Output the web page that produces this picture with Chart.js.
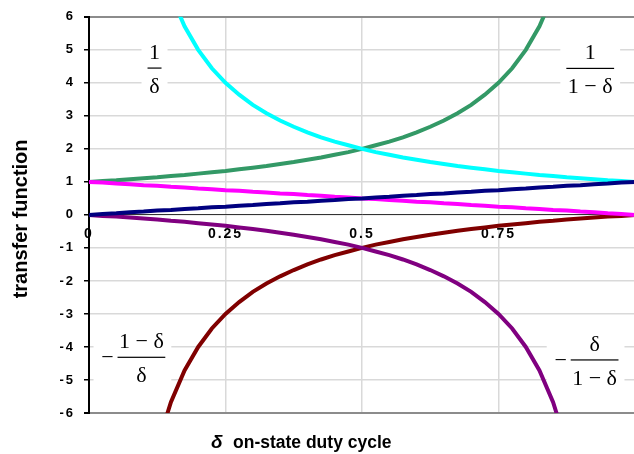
<!DOCTYPE html>
<html>
<head>
<meta charset="utf-8">
<script src="https://cdn.jsdelivr.net/npm/chart.js@4.4.1/dist/chart.umd.min.js"></script>
<style>
  html, body { margin: 0; padding: 0; background: #fff; overflow: hidden; }
  #wrap { width: 642px; height: 454px; }
</style>
</head>
<body>
<div id="wrap"><canvas id="chart" width="642" height="454"></canvas></div>
<script>
// duty cycle samples (x axis)
const deltaValues = [0, 0.025, 0.05, 0.075, 0.1, 0.125, 0.15, 0.175, 0.2, 0.225,
  0.25, 0.275, 0.3, 0.325, 0.35, 0.375, 0.4, 0.425, 0.45, 0.475,
  0.5, 0.525, 0.55, 0.575, 0.6, 0.625, 0.65, 0.675, 0.7, 0.725,
  0.75, 0.775, 0.8, 0.825, 0.85, 0.875, 0.9, 0.925, 0.95, 0.975, 1];

// 1/δ  (cyan)
const invDelta = [null, 40, 20, 13.33, 10, 8, 6.67, 5.71, 5, 4.44,
  4, 3.64, 3.33, 3.08, 2.86, 2.67, 2.5, 2.35, 2.22, 2.11,
  2, 1.9, 1.82, 1.74, 1.67, 1.6, 1.54, 1.48, 1.43, 1.38,
  1.33, 1.29, 1.25, 1.21, 1.18, 1.14, 1.11, 1.08, 1.05, 1.03, 1];

// 1/(1-δ)  (green)
const invOneMinus = [1, 1.03, 1.05, 1.08, 1.11, 1.14, 1.18, 1.21, 1.25, 1.29,
  1.33, 1.38, 1.43, 1.48, 1.54, 1.6, 1.67, 1.74, 1.82, 1.9,
  2, 2.11, 2.22, 2.35, 2.5, 2.67, 2.86, 3.08, 3.33, 3.64,
  4, 4.44, 5, 5.71, 6.67, 8, 10, 13.33, 20, 40, null];

// δ  (navy)
const deltaLine = [0, 0.03, 0.05, 0.08, 0.1, 0.13, 0.15, 0.18, 0.2, 0.23,
  0.25, 0.28, 0.3, 0.33, 0.35, 0.38, 0.4, 0.43, 0.45, 0.48,
  0.5, 0.53, 0.55, 0.58, 0.6, 0.63, 0.65, 0.68, 0.7, 0.73,
  0.75, 0.78, 0.8, 0.83, 0.85, 0.88, 0.9, 0.93, 0.95, 0.98, 1];

// 1-δ  (magenta)
const oneMinusLine = [1, 0.98, 0.95, 0.93, 0.9, 0.88, 0.85, 0.83, 0.8, 0.78,
  0.75, 0.73, 0.7, 0.68, 0.65, 0.63, 0.6, 0.58, 0.55, 0.53,
  0.5, 0.48, 0.45, 0.43, 0.4, 0.38, 0.35, 0.33, 0.3, 0.28,
  0.25, 0.23, 0.2, 0.18, 0.15, 0.13, 0.1, 0.08, 0.05, 0.03, 0];

// -(1-δ)/δ  (dark red)
const negOneMinusOverDelta = [null, -39, -19, -12.33, -9, -7, -5.67, -4.71, -4, -3.44,
  -3, -2.64, -2.33, -2.08, -1.86, -1.67, -1.5, -1.35, -1.22, -1.11,
  -1, -0.9, -0.82, -0.74, -0.67, -0.6, -0.54, -0.48, -0.43, -0.38,
  -0.33, -0.29, -0.25, -0.21, -0.18, -0.14, -0.11, -0.08, -0.05, -0.03, 0];

// -δ/(1-δ)  (purple)
const negDeltaOverOneMinus = [0, -0.03, -0.05, -0.08, -0.11, -0.14, -0.18, -0.21, -0.25, -0.29,
  -0.33, -0.38, -0.43, -0.48, -0.54, -0.6, -0.67, -0.74, -0.82, -0.9,
  -1, -1.11, -1.22, -1.35, -1.5, -1.67, -1.86, -2.08, -2.33, -2.64,
  -3, -3.44, -4, -4.71, -5.67, -7, -9, -12.33, -19, -39, null];

const xTickValues = [0, 0.25, 0.5, 0.75];

// formula labels : [delta, value of the fraction bar, leading minus, numerator, denominator]
const formulaLabels = [
  [0.12, 4.45, false, '1', 'δ'],
  [0.918, 4.44, false, '1', '1 − δ'],
  [0.096, -4.31, true, '1 − δ', 'δ'],
  [0.926, -4.39, true, 'δ', '1 − δ'],
];

function pts(values) {
  return values.map((v, i) => ({ x: deltaValues[i], y: v }));
}

function serie(values, color) {
  return {
    data: pts(values),
    borderColor: color,
    backgroundColor: color,
    borderWidth: 4,
    pointRadius: 0,
    tension: 0,
    clip: 0,
  };
}

const SERIF = '"Liberation Serif", "DejaVu Serif", serif';
const SANS = '"Liberation Sans", Arial, sans-serif';

// fractions, titres des axes
const formulaPlugin = {
  id: 'formulas',
  beforeDraw(chart) {
    chart.ctx.letterSpacing = '2px';
  },
  beforeDatasetsDraw(chart) {
    const ctx = chart.ctx;
    const xs = chart.scales.x;
    const ys = chart.scales.y;
    ctx.save();
    ctx.letterSpacing = '0px';
    ctx.font = '22px ' + SERIF;
    formulaLabels.forEach(([dx, vy, minus, num, den]) => {
      const cx = xs.getPixelForValue(dx);
      const by = ys.getPixelForValue(vy);
      const w = Math.max(ctx.measureText(num).width, ctx.measureText(den).width) + 3;
      const left = cx - w / 2 - (minus ? 24 : 6);
      ctx.fillStyle = '#fff';
      ctx.fillRect(left, by - 28, (cx + w / 2 + 6) - left, 62);
      ctx.fillStyle = '#000';
      ctx.textAlign = 'center';
      ctx.textBaseline = 'alphabetic';
      ctx.fillText(num, cx, by - 9);
      ctx.fillText(den, cx, by + 25);
      ctx.fillRect(cx - w / 2, by - 0.5, w, 1.2);
      if (minus) {
        ctx.fillText('−', cx - w / 2 - 10, by + 7);
      }
    });
    ctx.restore();
  },
  afterDraw(chart) {
    const ctx = chart.ctx;
    const area = chart.chartArea;
    ctx.save();
    ctx.letterSpacing = '0px';
    ctx.fillStyle = '#000';
    ctx.textBaseline = 'alphabetic';
    ctx.textAlign = 'left';
    ctx.font = 'italic bold 19px ' + SANS;
    ctx.fillText('δ', 211, area.bottom + 35);
    ctx.font = 'bold 17.5px ' + SANS;
    ctx.fillText('on-state duty cycle', 233, area.bottom + 35);
    // titre axe y
    ctx.translate(21, (area.top + area.bottom) / 2 + 4);
    ctx.rotate(-Math.PI / 2);
    ctx.textAlign = 'center';
    ctx.textBaseline = 'middle';
    ctx.font = 'bold 20px ' + SANS;
    ctx.fillText('transfer function', 0, 0);
    ctx.restore();
  }
};

const ctx = document.getElementById('chart').getContext('2d');
const chart = new Chart(ctx, {
  type: 'line',
  data: {
    datasets: [
      serie(deltaLine, '#000080'),
      serie(oneMinusLine, '#FF00FF'),
      serie(negDeltaOverOneMinus, '#800080'),
      serie(negOneMinusOverDelta, '#800000'),
      serie(invDelta, '#00FFFF'),
      serie(invOneMinus, '#339966'),
    ]
  },
  options: {
    responsive: false,
    animation: false,
    devicePixelRatio: 1,
    layout: { padding: { top: 15, bottom: 41, left: 0, right: 0 } },
    plugins: {
      legend: { display: false },
      tooltip: { enabled: false },
    },
    scales: {
      x: {
        type: 'linear',
        position: { y: 0 },
        min: 0,
        max: 1,
        afterBuildTicks: s => { s.ticks = xTickValues.concat([1]).map(v => ({ value: v })); },
        ticks: {
          callback: v => (v === 1 ? '' : String(v)),
          font: { family: SANS, size: 14, weight: 'bold' },
          color: '#000',
          padding: 7,
          maxRotation: 0,
        },
        grid: { color: '#d9d9d9', lineWidth: 1.5, tickLength: 4, tickColor: '#d9d9d9' },
        border: { color: '#333', width: 1 },
      },
      y: {
        min: -6,
        max: 6,
        afterFit: s => { s.width = 89; },
        ticks: {
          stepSize: 1,
          font: { family: SANS, size: 13, weight: 'bold' },
          color: '#000',
          padding: 9,
        },
        grid: {
          color: c => (c.tick && Math.abs(c.tick.value) === 6 ? '#8c8c8c' : '#d9d9d9'),
          lineWidth: c => (c.tick && Math.abs(c.tick.value) === 6 ? 2 : 1.5),
          tickLength: 5,
          tickColor: '#000',
        },
        border: { color: '#000', width: 2 },
      },
    },
  },
  plugins: [formulaPlugin],
});
</script>
</body>
</html>
